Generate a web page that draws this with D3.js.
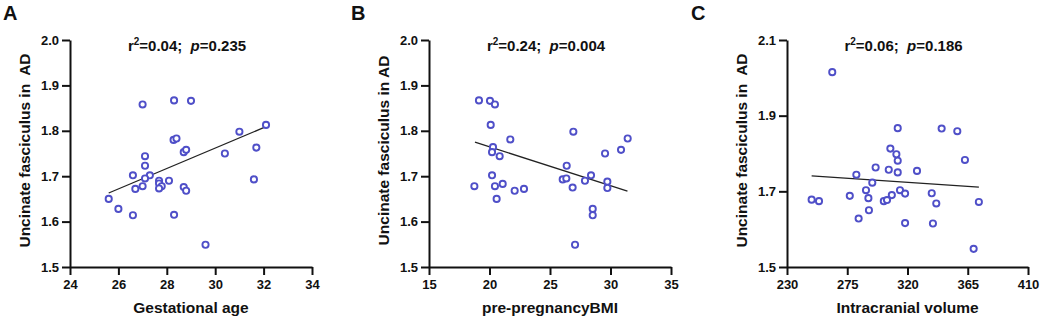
<!DOCTYPE html>
<html>
<head>
<meta charset="utf-8">
<script src="https://cdn.jsdelivr.net/npm/d3@7"></script>
<style>
    body { margin: 0; background: #fff; }
    svg { display: block; font-family: "Liberation Sans", Arial, sans-serif; }
</style>
</head>
<body>
<svg id="chart" width="1043" height="322"></svg>
<script>
// Panel A - gestational age vs AD
const gestAge = [27.0, 28.3, 29.0, 32.1, 31.0, 28.28, 28.4, 28.7, 28.8, 30.4, 31.7, 27.1, 27.1, 26.6, 27.3, 27.1,
    27.68, 28.09, 27.68, 27.79, 27.68, 27.0, 26.7, 28.7, 28.8, 31.6, 25.6, 26.0, 26.6, 28.3, 29.6];
const adA = [1.858, 1.867, 1.866, 1.813, 1.798, 1.780, 1.783, 1.753, 1.758, 1.750, 1.763, 1.744, 1.723, 1.702, 1.702, 1.695,
    1.690, 1.690, 1.684, 1.678, 1.673, 1.678, 1.672, 1.676, 1.668, 1.693, 1.650, 1.628, 1.614, 1.615, 1.549];
const fitA = [[25.6, 1.663], [32.05, 1.808]];

// Panel B - pre-pregnancy BMI vs AD
const bmi = [19.13, 20.04, 20.45, 20.1, 21.72, 26.93, 31.42, 30.87, 29.55, 20.29, 20.21, 20.84, 26.38, 20.21, 28.39,
    26.05, 26.35, 27.89, 29.74, 29.74, 26.87, 18.75, 20.45, 21.09, 22.08, 22.85, 20.59, 28.53, 28.53, 27.07];
const adB = [1.867, 1.866, 1.858, 1.813, 1.781, 1.798, 1.783, 1.758, 1.750, 1.764, 1.753, 1.744, 1.723, 1.702, 1.702,
    1.693, 1.695, 1.690, 1.688, 1.674, 1.675, 1.678, 1.678, 1.683, 1.668, 1.672, 1.650, 1.628, 1.614, 1.549];
const fitB = [[18.8, 1.775], [31.4, 1.667]];

// Panel C - intracranial volume vs AD
const icv = [263.8, 312.7, 345.5, 357.2, 307.2, 311.7, 312.7, 362.9, 296.2, 306.0, 312.7, 327.1, 281.8, 293.7, 289.0,
    314.4, 318.2, 338.1, 308.3, 276.9, 290.8, 302.3, 304.7, 341.5, 248.4, 253.9, 373.3, 291.2, 283.5, 318.2, 339.0, 369.4];
const adC = [2.015, 1.867, 1.866, 1.859, 1.813, 1.798, 1.781, 1.783, 1.763, 1.757, 1.750, 1.754, 1.744, 1.723, 1.703,
    1.703, 1.694, 1.695, 1.690, 1.688, 1.682, 1.674, 1.677, 1.668, 1.678, 1.674, 1.672, 1.650, 1.628, 1.616, 1.615, 1.548];
const fitC = [[248.4, 1.741], [373.3, 1.711]];

const xTicksA = [24, 26, 28, 30, 32, 34];
const xTicksB = [15, 20, 25, 30, 35];
const xTicksC = [230, 275, 320, 365, 410];
const yTicksAB = [1.5, 1.6, 1.7, 1.8, 1.9, 2.0];
const yTicksC = [1.5, 1.7, 1.9, 2.1];

const panels = [
    { letter: "A", left: 70, right: 312, xs: gestAge, ys: adA, fit: fitA, xTicks: xTicksA, yTicks: yTicksAB,
      xTitle: "Gestational age", yTitle: "Uncinate fasciculus in  AD", r2: "0.04", p: "0.235", letterX: 3 },
    { letter: "B", left: 429, right: 671, xs: bmi, ys: adB, fit: fitB, xTicks: xTicksB, yTicks: yTicksAB,
      xTitle: "pre-pregnancyBMI", yTitle: "Uncinate fasciculus in AD", r2: "0.24", p: "0.004", letterX: 351 },
    { letter: "C", left: 787, right: 1028, xs: icv, ys: adC, fit: fitC, xTicks: xTicksC, yTicks: yTicksC,
      xTitle: "Intracranial volume", yTitle: "Uncinate fasciculus in  AD", r2: "0.06", p: "0.186", letterX: 691 }
];

const plotTop = 40, plotBottom = 267;
const ink = "#111";
const dotColor = "#4f4fc8";

const svg = d3.select("#chart");

const drawPanel = (cfg) => {
    const x = d3.scaleLinear()
        .domain(d3.extent(cfg.xTicks))
        .range([cfg.left, cfg.right]);
    const y = d3.scaleLinear()
        .domain(d3.extent(cfg.yTicks))
        .range([plotBottom, plotTop]);

    const g = svg.append("g");

    // x axis
    const xAxis = g.append("g")
        .attr("transform", `translate(0,${plotBottom})`)
        .call(d3.axisBottom(x).tickValues(cfg.xTicks).tickSize(8).tickSizeOuter(0).tickPadding(5).tickFormat(d3.format("d")));
    // y axis
    const yAxis = g.append("g")
        .attr("transform", `translate(${cfg.left},0)`)
        .call(d3.axisLeft(y).tickValues(cfg.yTicks).tickSize(8).tickSizeOuter(0).tickPadding(3).tickFormat(d3.format(".1f")));

    [xAxis, yAxis].forEach(ax => {
        ax.select(".domain").attr("stroke", ink).attr("stroke-width", 2);
        ax.selectAll(".tick line").attr("stroke", ink).attr("stroke-width", 2);
        ax.selectAll(".tick text")
            .attr("fill", ink)
            .style("font-size", "13px")
            .style("font-weight", "bold")
            .style("font-family", "'Liberation Sans', Arial, sans-serif");
    });

    // regression line
    g.append("line")
        .attr("x1", x(cfg.fit[0][0]))
        .attr("y1", y(cfg.fit[0][1]))
        .attr("x2", x(cfg.fit[1][0]))
        .attr("y2", y(cfg.fit[1][1]))
        .attr("stroke", "#222")
        .attr("stroke-width", 1.3);

    // points
    g.selectAll("circle")
        .data(cfg.xs.map((v, i) => ({ x: v, y: cfg.ys[i] })))
        .join("circle")
        .attr("cx", d => x(d.x))
        .attr("cy", d => y(d.y))
        .attr("r", 3.1)
        .attr("fill", "#fff")
        .attr("stroke", dotColor)
        .attr("stroke-width", 1.9);

    // stats text
    const stat = g.append("text")
        .attr("x", (cfg.left + cfg.right) / 2 - 4)
        .attr("y", 51)
        .attr("text-anchor", "middle")
        .attr("fill", ink)
        .style("font-size", "15px")
        .style("font-weight", "bold");
    stat.append("tspan").text("r");
    stat.append("tspan").attr("dy", -6).style("font-size", "10px").text("2");
    stat.append("tspan").attr("dy", 6).text(`=${cfg.r2};\u00a0\u00a0`);
    stat.append("tspan").style("font-style", "italic").text("p");
    stat.append("tspan").text(`=${cfg.p}`);

    // axis titles
    g.append("text")
        .attr("x", (cfg.left + cfg.right) / 2)
        .attr("y", 313)
        .attr("text-anchor", "middle")
        .attr("fill", ink)
        .style("font-size", "15.5px")
        .style("font-weight", "bold")
        .text(cfg.xTitle);

    g.append("text")
        .attr("transform", `translate(${cfg.left - 40},${(plotTop + plotBottom) / 2 - 3}) rotate(-90)`)
        .attr("text-anchor", "middle")
        .attr("fill", ink)
        .style("font-size", "15.5px")
        .style("font-weight", "bold")
        .style("white-space", "pre")
        .text(cfg.yTitle);

    // panel letter
    g.append("text")
        .attr("x", cfg.letterX)
        .attr("y", 20)
        .attr("fill", ink)
        .style("font-size", "20px")
        .style("font-weight", "bold")
        .text(cfg.letter);
};

panels.forEach(drawPanel);
</script>
</body>
</html>
